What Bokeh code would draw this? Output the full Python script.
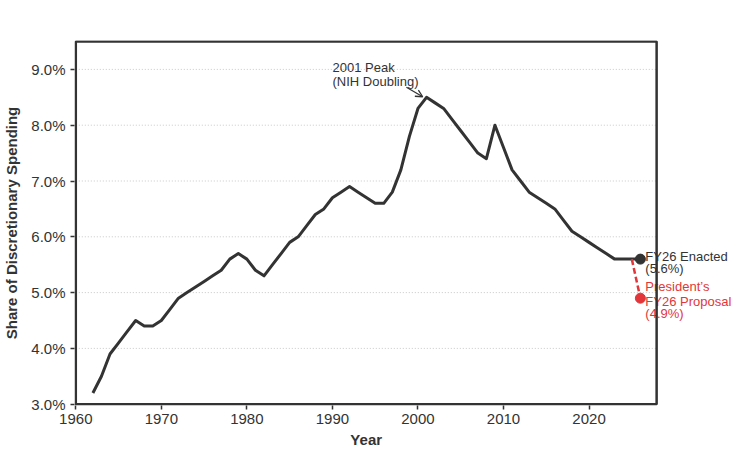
from bokeh.plotting import figure
from bokeh.models import (ColumnDataSource, FixedTicker, PrintfTickFormatter,
                          Range1d, Label, Arrow, OpenHead, BoxAnnotation)
from bokeh.embed import file_html
from bokeh.resources import INLINE

years = list(range(1962, 2027))
share = [3.2, 3.5, 3.9, 4.1, 4.3, 4.5, 4.4, 4.4, 4.5, 4.7,
         4.9, 5.0, 5.1, 5.2, 5.3, 5.4, 5.6, 5.7, 5.6, 5.4,
         5.3, 5.5, 5.7, 5.9, 6.0, 6.2, 6.4, 6.5, 6.7, 6.8,
         6.9, 6.8, 6.7, 6.6, 6.6, 6.8, 7.2, 7.8, 8.3, 8.5,
         8.4, 8.3, 8.1, 7.9, 7.7, 7.5, 7.4, 8.0, 7.6, 7.2,
         7.0, 6.8, 6.7, 6.6, 6.5, 6.3, 6.1, 6.0, 5.9, 5.8,
         5.7, 5.6, 5.6, 5.6, 5.6]
proposal_years = [2025, 2026]
proposal_share = [5.6, 4.9]
enacted_year = [2026]
enacted_share = [5.6]
peak_year = 2001
peak_share = 8.5
x_ticks = [1960, 1970, 1980, 1990, 2000, 2010, 2020]
y_ticks = [3.0, 4.0, 5.0, 6.0, 7.0, 8.0, 9.0]
x_min, x_max = 1960, 2027.9
y_min, y_max = 3.0, 9.5

FONT = "Liberation Sans"
DARK = "#333333"
RED = "#e2363a"
GRID = "#c8c8c8"

# The drawing area is widened to the page edge so that the end labels are
# not clipped; the visible chart box is drawn as an annotation.
px_per_year = 8.567
px_per_unit = 55.8
left_pad = 1.3 / px_per_year
x_start = x_min - left_pad
x_end = x_start + 667 / px_per_year
y_start = y_min - 1.3 / px_per_unit
y_end = y_start + 365 / px_per_unit

p = figure(width=740, height=457, output_backend="svg", toolbar_location=None,
           x_range=Range1d(x_start, x_end), y_range=Range1d(y_start, y_end),
           min_border_left=73, min_border_right=0, min_border_top=40,
           min_border_bottom=52)
p.background_fill_color = "white"
p.border_fill_color = "white"
p.outline_line_color = None
p.xgrid.visible = False
p.ygrid.visible = False

for ax in (p.xaxis, p.yaxis):
    ax.axis_line_color = None
    ax.major_tick_line_color = DARK
    ax.major_tick_line_width = 1.5
    ax.major_tick_out = 4
    ax.major_tick_in = 0
    ax.minor_tick_line_color = None
    ax.major_label_text_font = FONT
    ax.major_label_text_font_size = "15px"
    ax.major_label_text_color = DARK
    ax.axis_label_text_font = FONT
    ax.axis_label_text_font_size = "15px"
    ax.axis_label_text_font_style = "bold"
    ax.axis_label_text_color = DARK

p.xaxis.ticker = FixedTicker(ticks=x_ticks)
p.yaxis.ticker = FixedTicker(ticks=y_ticks)
p.yaxis.formatter = PrintfTickFormatter(format="%.1f%%")
p.yaxis.axis_label = "Share of Discretionary Spending"
p.xaxis.major_label_standoff = 4
p.yaxis.major_label_standoff = 5
p.yaxis.axis_label_standoff = 8

# dotted horizontal grid inside the chart box
grid_y = [t for t in y_ticks if t > y_min]
p.segment(x0=[x_min] * len(grid_y), x1=[x_max] * len(grid_y), y0=grid_y, y1=grid_y,
          line_color=GRID, line_width=1, line_dash="1 2")

src = ColumnDataSource(dict(x=years, y=share))
p.line("x", "y", source=src, line_color=DARK, line_width=3, line_join="round")

p.line(proposal_years, proposal_share, line_color=RED, line_width=2.5, line_dash="6 3")
p.scatter([proposal_years[-1]], [proposal_share[-1]], size=10, fill_color=RED,
          line_color=RED)
p.scatter(enacted_year, enacted_share, size=10, fill_color=DARK, line_color=DARK)

def lab(x, y, text, color, dx, dy, size="13px", style="normal", align="left",
        place="center"):
    p.add_layout(Label(x=x, y=y, text=text, x_offset=dx, y_offset=dy,
                       text_font=FONT, text_font_size=size, text_color=color,
                       text_font_style=style, text_baseline="alphabetic",
                       text_align=align), place)

lab(enacted_year[0], enacted_share[0], "FY26 Enacted", DARK, 5, 3)
lab(enacted_year[0], enacted_share[0], "(5.6%)", DARK, 5, -9)
lab(proposal_years[-1], proposal_share[-1], "President\u2019s", RED, 5, 12)
lab(proposal_years[-1], proposal_share[-1], "FY26 Proposal", RED, 5, -3)
lab(proposal_years[-1], proposal_share[-1], "(4.9%)", RED, 5, -15)

lab(peak_year, peak_share, "2001 Peak", DARK, -94, 30)
lab(peak_year, peak_share, "(NIH Doubling)", DARK, -94, 16)

# x-axis title, centred under the chart box
lab((x_min + x_max) / 2, y_min, "Year", DARK, 0, -35, size="15px", style="bold",
    align="center", place="below")

p.add_layout(Arrow(end=OpenHead(size=7, line_color=DARK, line_width=1.3),
                   x_start=peak_year - 2.35, y_start=peak_share + 0.18,
                   x_end=peak_year - 0.45, y_end=peak_share + 0.01,
                   line_color=DARK, line_width=1.3))

# chart box, drawn on top like the reference's frame
p.add_layout(BoxAnnotation(left=x_min, right=x_max, bottom=y_min, top=y_max,
                           fill_color=None, fill_alpha=0, line_color=DARK,
                           line_alpha=1.0, line_width=2.5))

open("out.html", "w").write(file_html(p, INLINE))
